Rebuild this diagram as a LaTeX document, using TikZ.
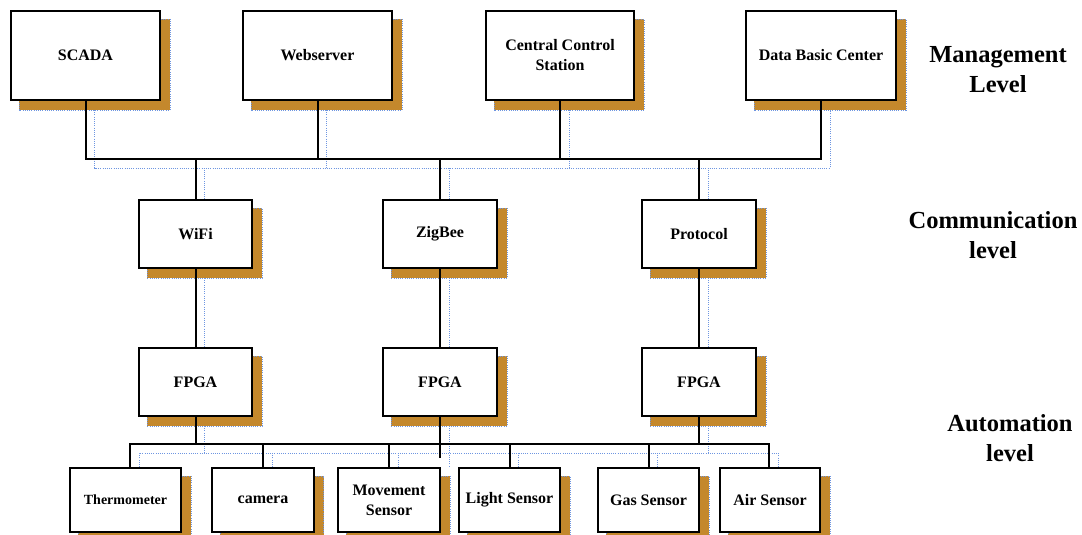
\documentclass[tikz,border=0pt]{standalone}
\usepackage{fontspec}
\setmainfont{Liberation Serif}
\usetikzlibrary{calc,backgrounds}
\definecolor{shbrown}{RGB}{196,136,44}
\definecolor{shblue}{RGB}{110,150,225}
\tikzset{
 box/.style={draw=black, line width=2pt, fill=white, inner sep=0pt, align=center, font=\bfseries\fontsize{16}{20}\selectfont},
 conn/.style={draw=black, line width=2pt},
 shline/.style={draw=shblue, line width=0.9pt, dash pattern=on 1pt off 1.2pt},
 shbox/.style={fill=shbrown, draw=shblue, line width=0.7pt, dash pattern=on 1pt off 1.2pt},
 lvl/.style={font=\bfseries\fontsize{24.5}{30}\selectfont, align=center},
}
\begin{document}
\begin{tikzpicture}[x=1pt,y=-1pt]
\useasboundingbox (0,0) rectangle (1082,535);
% management level
\node[box, minimum width=149pt, minimum height=89pt] (scada) at (85.5,55.5) {SCADA};
\node[box, minimum width=149pt, minimum height=89pt] (web) at (317.5,55.5) {Webserver};
\node[box, minimum width=148pt, minimum height=89pt] (ccs) at (560,55.5) {Central Control\\Station};
\node[box, minimum width=150pt, minimum height=89pt] (dbc) at (821,55.5) {Data Basic Center};
% communication level
\node[box, minimum width=113pt, minimum height=68pt] (wifi) at (195.5,234) {WiFi};
\node[box, minimum width=114pt, minimum height=68pt] (zig) at (440,234) {ZigBee};
\node[box, minimum width=114pt, minimum height=68pt] (proto) at (699,234) {Protocol};
% FPGA
\node[box, minimum width=113pt, minimum height=68pt] (f1) at (195.5,382) {FPGA};
\node[box, minimum width=114pt, minimum height=68pt] (f2) at (440,382) {FPGA};
\node[box, minimum width=114pt, minimum height=68pt] (f3) at (699,382) {FPGA};
% sensors
\node[box, minimum width=111pt, minimum height=64pt, font=\bfseries\fontsize{14}{18}\selectfont] (therm) at (125.5,500) {Thermometer};
\node[box, minimum width=101.5pt, minimum height=64pt] (cam) at (263,500) {camera};
\node[box, minimum width=102pt, minimum height=64pt] (move) at (389,500) {Movement\\Sensor};
\node[box, minimum width=101pt, minimum height=64pt] (light) at (509.5,500) {Light Sensor};
\node[box, minimum width=101pt, minimum height=64pt] (gas) at (648.5,500) {Gas Sensor};
\node[box, minimum width=100pt, minimum height=64pt] (air) at (770,500) {Air Sensor};
% level labels
\node[lvl] (mgmt) at (998,70) {Management\\Level};
\node[lvl] (comm) at (993,235) {Communication\\level};
\node[lvl] (auto) at (1010,438) {Automation\\level};

\coordinate (bus) at (0,159);
\coordinate (sbus) at (0,444);

\begin{scope}[on background layer]
\foreach \n in {scada,web,ccs,dbc,wifi,zig,proto,f1,f2,f3,therm,cam,move,light,gas,air}
  \draw[shbox] ($(\n.north west)+(9,9)$) rectangle ($(\n.south east)+(9,9)$);
% blue shadow lines
\draw[shline] ($(scada.south)+(9,9)$) -- ($(scada.south |- bus)+(9,9)$) -- ($(dbc.south |- bus)+(9,9)$) -- ($(dbc.south)+(9,9)$);
\foreach \n in {web,ccs}
  \draw[shline] ($(\n.south)+(9,9)$) -- ($(\n.south |- bus)+(9,9)$);
\foreach \n in {wifi,zig,proto}
  \draw[shline] ($(\n.north)+(9,9)$) -- ($(\n.north |- bus)+(9,9)$);
\draw[shline] ($(wifi.south)+(9,9)$) -- ($(f1.north)+(9,9)$);
\draw[shline] ($(zig.south)+(9,9)$) -- ($(f2.north)+(9,9)$);
\draw[shline] ($(proto.south)+(9,9)$) -- ($(f3.north)+(9,9)$);
\draw[shline] ($(therm.north)+(13.5,9)$) -- ($(therm.north |- sbus)+(13.5,9)$) -- ($(air.north |- sbus)+(8,9)$) -- ($(air.north)+(8,9)$);
\foreach \n in {cam,move,light,gas}
  \draw[shline] ($(\n.north)+(9,9)$) -- ($(\n.north |- sbus)+(9,9)$);
\draw[shline] ($(f1.south)+(9,9)$) -- ($(f1.south |- sbus)+(9,9)$);
\draw[shline] ($(f3.south)+(9,9)$) -- ($(f3.south |- sbus)+(9,9)$);
\draw[shline] ($(f2.south)+(9,9)$) -- ($(f2.south |- sbus)+(9,23)$);
\end{scope}

% black connectors
\draw[conn] (scada.south) -- (scada.south |- bus) -- (dbc.south |- bus) -- (dbc.south);
\draw[conn] (web.south) -- (web.south |- bus);
\draw[conn] (ccs.south) -- (ccs.south |- bus);
\draw[conn] (wifi.north) -- (wifi.north |- bus);
\draw[conn] (zig.north) -- (zig.north |- bus);
\draw[conn] (proto.north) -- (proto.north |- bus);
\draw[conn] (wifi.south) -- (f1.north);
\draw[conn] (zig.south) -- (f2.north);
\draw[conn] (proto.south) -- (f3.north);
\draw[conn] ($(therm.north)+(4.5,0)$) -- ($(therm.north |- sbus)+(4.5,0)$) -- ($(air.north |- sbus)+(-1,0)$) -- ($(air.north)+(-1,0)$);
\draw[conn] (cam.north) -- (cam.north |- sbus);
\draw[conn] (move.north) -- (move.north |- sbus);
\draw[conn] (light.north) -- (light.north |- sbus);
\draw[conn] (gas.north) -- (gas.north |- sbus);
\draw[conn] (f1.south) -- (f1.south |- sbus);
\draw[conn] (f3.south) -- (f3.south |- sbus);
\draw[conn] (f2.south) -- ($(f2.south |- sbus)+(0,14)$);
\end{tikzpicture}
\end{document}
